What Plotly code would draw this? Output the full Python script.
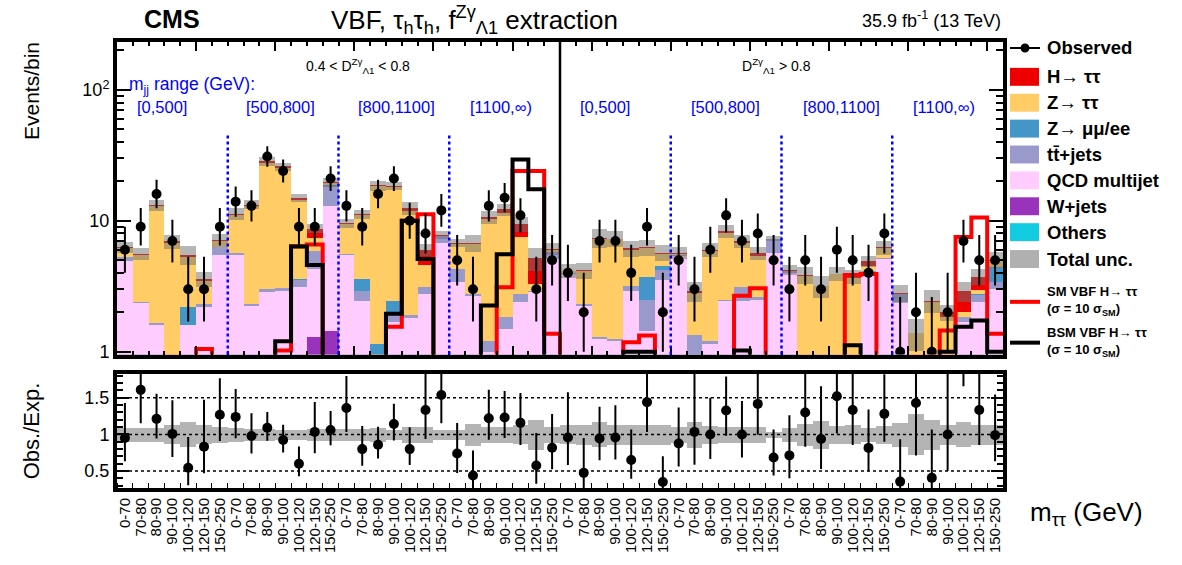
import plotly.graph_objects as go
import numpy as np

# ---------------- data ----------------
mtt_labels = ["0-70", "70-80", "80-90", "90-100", "100-120", "120-150", "150-250"]
mjj_ranges = ["[0,500]", "[500,800]", "[800,1100]", "[1100,∞)"]
tick_labels = mtt_labels * 8

observed = [6, 9, 16, 7, 3, 3, 9,
            14, 13, 31, 24, 9, 9, 21,
            13, 9, 16, 21, 10, 8, 12,
            5, 3, 13, 15, 11, 3, 5,
            4, 2, 7, 7, 4, 9, 2,
            5, 3, 6, 11, 7, 8, 5,
            3, 5, 3, 6, 5, 4, 8,
            1, 2, 1, 2, 7, 5, 5]

others = [0.0] * 56
wjets = [0, 0, 0, 0, 0, 0, 0,
         0, 0, 0, 0, 0, 1.3, 1.45,
         0, 0, 0, 0, 0, 0, 0,
         0, 0, 0, 0, 0, 0, 0,
         0, 0, 0, 0, 0, 0, 0,
         0, 0, 0, 0, 0, 0, 0,
         0, 0, 0, 0, 0, 0, 0,
         0, 0, 0, 0, 0, 0, 0]
qcd = [4.9, 2.35, 1.6, 0.9, 1.6, 2.18, 5.5,
       5.5, 2.25, 2.84, 2.93, 3.1, 3.0, 11.55,
       5.5, 2.46, 0.8, 1.7, 1.8, 2.76, 6.8,
       3.4, 2.68, 1.0, 1.5, 2.4, 2.84, 5.1,
       3.9, 2.25, 1.25, 1.2, 2.93, 1.45, 3.5,
       5.4, 0.7, 1.15, 2.46, 2.46, 2.5, 5.7,
       4.0, 0.5, 0.5, 0.6, 0.8, 4.0, 5.1,
       2.4, 0.5, 0.6, 0.7, 1.7, 2.4, 3.0]
ttbar = [0.35, 0.05, 0.05, 0.05, 0.0, 0.12, 0.8,
         0.2, 0.05, 0.16, 0.12, 0.4, 1.6, 5.4,
         0.1, 0.47, 0.1, 0.2, 0.1, 0.34, 0.8,
         0.9, 0.07, 0.2, 0.34, 0.36, 0.06, 0.64,
         0.1, 0.05, 0.05, 0.05, 0.27, 1.05, 0.7,
         0.1, 0.63, 0.05, 0.04, 0.64, 0.1, 1.5,
         0.1, 0.05, 0.05, 0.05, 0.05, 0.1, 0.1,
         0.35, 0.05, 0.05, 0.05, 0.15, 0.3, 0.4]
zll = [0, 0, 0, 0, 0.6, 0, 0,
       0, 0, 0, 0, 0.1, 0, 0.4,
       0, 0.67, 0.25, 0.55, 0, 0, 0,
       0, 0, 0, 0, 0, 0, 0,
       0, 0, 0, 0, 0, 1.2, 0.3,
       0, 0, 0, 0, 0, 0, 0,
       0, 0, 0, 0, 0, 0, 0,
       0, 0, 0, 0, 0, 0.05, 1.0]
ztt = [0.95, 3.1, 11.35, 5.85, 3.1, 1.15, 0.7,
       5.4, 10.7, 24.5, 22.45, 10.7, 1.5, 0.8,
       3.8, 7.5, 17.25, 15.75, 9.9, 1.5, 0.1,
       2.3, 3.95, 9.2, 9.56, 4.74, 0.4, 0.26,
       0.1, 1.8, 6.0, 5.95, 2.8, 2.45, 1.1,
       0.1, 1.47, 4.7, 5.6, 3.7, 2.8, 0.05,
       0.05, 3.25, 2.6, 3.25, 2.8, 0.4, 1.0,
       0.0, 0.83, 1.75, 1.1, 0.15, 0.2, 0.5]
htt = [0.1, 0.1, 0.2, 0.15, 0.2, 0.15, 0.1,
       0.2, 0.3, 0.9, 0.5, 0.7, 1.3, 0.2,
       0.15, 0.15, 0.2, 0.2, 0.7, 1.4, 0.1,
       0.15, 0.1, 0.25, 0.8, 2.0, 1.9, 0.1,
       0.07, 0.1, 0.1, 0.1, 0.15, 0.1, 0.1,
       0.1, 0.1, 0.1, 0.2, 0.2, 0.25, 0.05,
       0.05, 0.05, 0.05, 0.05, 0.1, 0.4, 0.05,
       0.05, 0.02, 0.05, 0.15, 0.9, 0.8, 0.15]
rel_unc = [0.10, 0.10, 0.10, 0.13, 0.17, 0.13, 0.11,
           0.10, 0.08, 0.08, 0.07, 0.07, 0.08, 0.08,
           0.08, 0.08, 0.09, 0.07, 0.11, 0.11, 0.07,
           0.07, 0.15, 0.11, 0.11, 0.13, 0.20, 0.11,
           0.13, 0.14, 0.17, 0.14, 0.14, 0.14, 0.14,
           0.11, 0.18, 0.12, 0.11, 0.11, 0.11, 0.04,
           0.09, 0.15, 0.19, 0.12, 0.13, 0.10, 0.12,
           0.16, 0.28, 0.20, 0.14, 0.17, 0.14, 0.14]
sm_vbf = [0.5, 0.5, 0.5, 0.5, 0.5, 1.05, 0.5,
          0.5, 0.5, 0.5, 1.02, 6.4, 6.6, 0.5,
          0.5, 0.5, 0.5, 1.55, 10.0, 11.2, 0.5,
          0.5, 0.5, 0.8, 3.1, 24.0, 24.0, 1.37,
          0.5, 0.5, 0.5, 0.5, 1.18, 1.33, 0.5,
          0.5, 0.5, 0.5, 0.5, 2.68, 3.05, 0.5,
          0.5, 0.5, 0.5, 0.5, 3.85, 3.92, 0.5,
          0.5, 0.5, 0.5, 1.45, 7.5, 10.6, 1.37]
bsm_vbf = [0.5, 0.5, 0.5, 0.5, 0.5, 0.5, 0.5,
           0.5, 0.5, 0.5, 1.2, 6.35, 4.6, 0.5,
           0.5, 0.5, 0.5, 1.95, 10.0, 5.1, 0.5,
           0.5, 0.5, 2.25, 5.56, 29.4, 17.4, 0.5,
           0.5, 0.5, 0.5, 0.5, 1.0, 1.0, 0.5,
           0.5, 0.5, 0.5, 0.5, 1.02, 0.5, 0.5,
           0.5, 0.5, 0.5, 0.5, 1.12, 0.5, 0.5,
           0.5, 0.5, 0.5, 1.0, 1.55, 1.73, 1.0]

# ---------------- derived ----------------
n = len(observed)
x = np.arange(n)
comps = [("Others", others, "#11cce0"), ("W+jets", wjets, "#9933bb"),
         ("QCD multijet", qcd, "#ffccff"), ("tt+jets", ttbar, "#9999cc"),
         ("Z->ll", zll, "#4496c8"), ("Z->tautau", ztt, "#ffcc66"),
         ("H->tautau", htt, "#ee0000")]
cum = np.cumsum(np.array([c[1] for c in comps], dtype=float), axis=0)
total = cum[-1]
obs = np.array(observed, dtype=float)
unc = np.array(rel_unc) * total
err_up = 0.5 + np.sqrt(obs + 0.25)
err_dn = -0.5 + np.sqrt(obs + 0.25)
ratio = obs / total

FONT = "Liberation Sans, Arial, sans-serif"
X0, X1, Y0, Y1 = 117, 1003, 42, 490


def px(v):
    return (v - X0) / (X1 - X0)


def py(v):
    return (Y1 - v) / (Y1 - Y0)


def note(text, xp, yp, size, color="black", xa="center", ya="middle", angle=0):
    return dict(text=text, x=px(xp), y=py(yp), xref="paper", yref="paper", xanchor=xa, yanchor=ya,
                textangle=angle, showarrow=False, font=dict(size=size, family=FONT, color=color))


fig = go.Figure()

# stacked histogram (draw cumulative, largest first)
for i in range(len(comps) - 1, -1, -1):
    vals = [v if v > 0 else None for v in cum[i]]
    fig.add_trace(go.Bar(x=x, y=vals, width=1.0, marker=dict(color=comps[i][2], line=dict(width=0)),
                         showlegend=False, xaxis="x", yaxis="y", hoverinfo="skip"))

# total uncertainty band
fig.add_trace(go.Bar(x=x, y=2 * unc, base=total - unc, width=1.0,
                     marker=dict(color="rgba(110,110,110,0.5)", line=dict(width=0)),
                     showlegend=False, xaxis="x", yaxis="y"))

# signal hypotheses as step outlines
edges = np.arange(n + 1) - 0.5
fig.add_trace(go.Scatter(x=edges, y=list(sm_vbf) + [sm_vbf[-1]], mode="lines", line_shape="hv",
                         line=dict(color="#ff0000", width=4), showlegend=False, xaxis="x", yaxis="y"))
fig.add_trace(go.Scatter(x=edges, y=list(bsm_vbf) + [bsm_vbf[-1]], mode="lines", line_shape="hv",
                         line=dict(color="#000000", width=4), showlegend=False, xaxis="x", yaxis="y"))

# observed
fig.add_trace(go.Scatter(x=x, y=obs, mode="markers", marker=dict(color="black", size=10),
                         error_y=dict(type="data", array=err_up, arrayminus=err_dn, color="black",
                                      thickness=2, width=0),
                         showlegend=False, xaxis="x", yaxis="y"))

# ratio panel
rel = np.array(rel_unc)
fig.add_trace(go.Bar(x=x, y=2 * rel, base=1 - rel, width=1.0,
                     marker=dict(color="#b4b4b4", line=dict(width=0)),
                     showlegend=False, xaxis="x2", yaxis="y2"))
fig.add_trace(go.Scatter(x=x, y=ratio, mode="markers", marker=dict(color="black", size=10),
                         error_y=dict(type="data", array=err_up / total, arrayminus=err_dn / total,
                                      color="black", thickness=2, width=0),
                         showlegend=False, xaxis="x2", yaxis="y2", cliponaxis=True))

shapes = []
# ratio reference lines
for yv in [0.5, 1.0, 1.5]:
    shapes.append(dict(type="line", xref="x2", yref="y2", x0=-0.5, x1=n - 0.5, y0=yv, y1=yv,
                       line=dict(color="black", width=1.5, dash="dot"), layer="above"))
# category separators
for b in [7, 14, 21, 35, 42, 49]:
    shapes.append(dict(type="line", xref="x", yref="paper", x0=b - 0.5, x1=b - 0.5,
                       y0=py(356), y1=py(135), line=dict(color="#0000ff", width=2.5, dash="dot")))
shapes.append(dict(type="line", xref="x", yref="paper", x0=27.5, x1=27.5,
                   y0=py(356), y1=py(42), line=dict(color="black", width=2.5)))

annotations = []
# header
annotations.append(note("<b>CMS</b>", 172, 19, 25))
annotations.append(note("VBF, τ<sub>h</sub>τ<sub>h</sub>, f<sup>Zγ</sup><sub>Λ1</sub> extraction", 474, 20, 26))
annotations.append(note("35.9 fb<sup>-1</sup> (13 TeV)", 1003, 19, 18, xa="right"))
# region labels
annotations.append(note("0.4 < D<sup>Zγ</sup><sub>Λ1</sub> < 0.8", 358, 66, 14))
annotations.append(note("D<sup>Zγ</sup><sub>Λ1</sub> > 0.8", 776, 66, 14))
annotations.append(note("m<sub>jj</sub> range (GeV):", 127, 86, 17.5, color="#0000ff", xa="left"))
range_centers = [162, 280, 396, 501, 605, 725, 841, 944]
for k, c in enumerate(range_centers):
    annotations.append(note(mjj_ranges[k % 4], c, 107, 16.5, color="#0000ff"))
# axis titles
annotations.append(note("Events/bin", 31, 40, 21, ya="top", angle=-90))
annotations.append(note("Obs./Exp.", 31, 433, 22, angle=-90))
annotations.append(note("m<sub>ττ</sub> (GeV)", 1145, 516, 26, xa="right"))

# legend (drawn manually)
leg_rows = [("H→ ττ", "#ee0000", 77), ("Z→ ττ", "#ffcc66", 103), ("Z→ μμ/ee", "#4496c8", 129),
            ("tt̄+jets", "#9999cc", 155), ("QCD multijet", "#ffccff", 181),
            ("W+jets", "#9933bb", 207), ("Others", "#11cce0", 233), ("Total unc.", "#b0b0b0", 260)]
for label, col, yy in leg_rows:
    shapes.append(dict(type="rect", xref="paper", yref="paper", x0=px(1010), x1=px(1039),
                       y0=py(yy + 9), y1=py(yy - 9), fillcolor=col, line=dict(width=0)))
    annotations.append(note("<b>%s</b>" % label, 1045, yy, 18.5, xa="left"))
shapes.append(dict(type="line", xref="paper", yref="paper", x0=px(1010), x1=px(1040), y0=py(48), y1=py(48),
                   line=dict(color="black", width=2)))
shapes.append(dict(type="circle", xref="paper", yref="paper", x0=px(1020.5), x1=px(1029.5),
                   y0=py(52.5), y1=py(43.5), fillcolor="black", line=dict(width=0)))
annotations.append(note("<b>Observed</b>", 1045, 48, 18.5, xa="left"))
for lab, col, yy in [("SM VBF H→ ττ", "#ff0000", 293), ("BSM VBF H→ ττ", "black", 334)]:
    shapes.append(dict(type="line", xref="paper", yref="paper", x0=px(1010), x1=px(1040),
                       y0=py(yy + 10), y1=py(yy + 10), line=dict(color=col, width=4)))
    annotations.append(note("<b>%s</b>" % lab, 1045, yy, 13, xa="left"))
    annotations.append(note("<b>(σ = 10 σ<sub>SM</sub>)</b>", 1045, yy + 18, 13, xa="left"))

boundaries = list(np.arange(n + 1) - 0.5)
axis_common = dict(showline=True, linecolor="black", linewidth=4, mirror="allticks",
                   ticks="inside", tickcolor="black", showgrid=False, zeroline=False)

fig.update_layout(
    width=1182, height=565,
    margin=dict(l=X0, r=1182 - X1, t=Y0, b=565 - Y1),
    paper_bgcolor="white", plot_bgcolor="white",
    barmode="overlay", bargap=0,
    showlegend=False,
    font=dict(family=FONT, color="black"),
    xaxis=dict(domain=[0, 1], anchor="y", range=[-0.5, n - 0.5], showticklabels=False,
               tickvals=boundaries[::5], ticklen=9, tickwidth=1.5,
               minor=dict(tickvals=boundaries, ticks="inside", ticklen=4, tickcolor="black"),
               **axis_common),
    yaxis=dict(domain=[py(356), 1], anchor="x", type="log", range=[np.log10(0.95), np.log10(232)],
               tickvals=[1, 10, 100], ticktext=["1", "10", "10<sup>2</sup>"], ticklen=14, tickwidth=1.5,
               tickfont=dict(size=18, family=FONT),
               minor=dict(tickvals=[2, 3, 4, 5, 6, 7, 8, 9, 20, 30, 40, 50, 60, 70, 80, 90, 200],
                          ticks="inside", ticklen=7, tickcolor="black"),
               **axis_common),
    xaxis2=dict(domain=[0, 1], anchor="y2", range=[-0.5, n - 0.5], matches="x",
                tickvals=list(x), ticktext=tick_labels, tickangle=-90, ticklen=0,
                tickfont=dict(size=15, family=FONT),
                minor=dict(tickvals=boundaries, ticks="inside", ticklen=5, tickcolor="black"),
                showline=True, linecolor="black", linewidth=4, mirror=True, ticks="",
                showgrid=False, zeroline=False),
    yaxis2=dict(domain=[0, py(375)], anchor="x2", range=[0.27, 1.83],
                tickvals=[0.5, 1, 1.5], ticktext=["0.5", "1", "1.5"], ticklen=12, tickwidth=1.5,
                tickfont=dict(size=18, family=FONT),
                minor=dict(tickvals=[0.3, 0.4, 0.6, 0.7, 0.8, 0.9, 1.1, 1.2, 1.3, 1.4, 1.6, 1.7, 1.8],
                           ticks="inside", ticklen=6, tickcolor="black"),
                **axis_common),
    shapes=shapes,
    annotations=annotations,
)

fig.write_html("out.html")
